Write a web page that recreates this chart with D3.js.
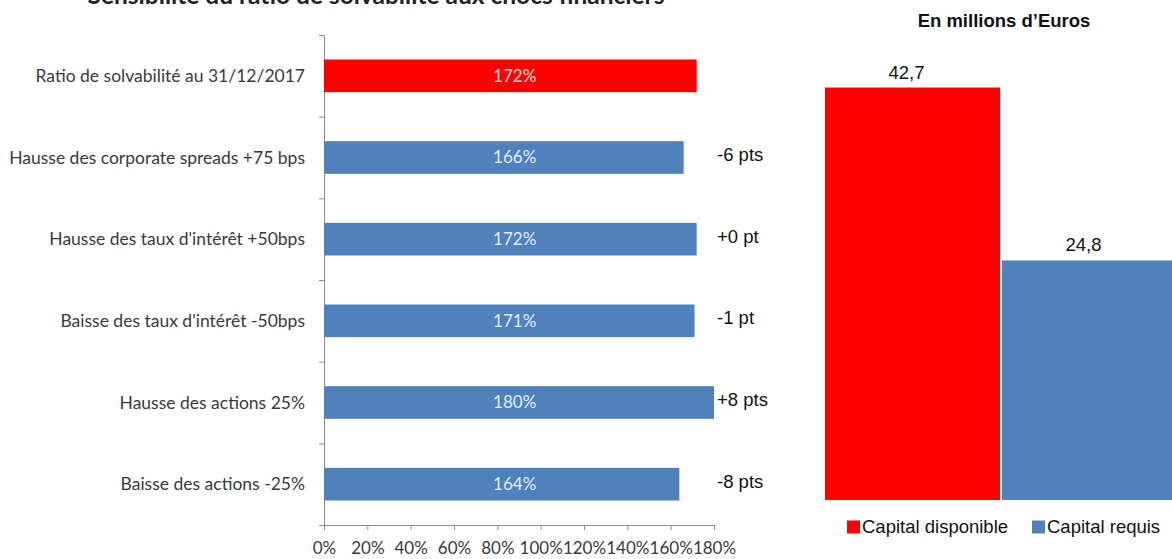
<!DOCTYPE html>
<html>
<head>
<meta charset="utf-8">
<script src="https://cdn.jsdelivr.net/npm/d3@7"></script>
<style>
  body { margin: 0; background: #fff; }
  svg { display: block; }
  .cal { font-family: Lato, "Noto Sans", sans-serif; }
  .ari { font-family: "Liberation Sans", Arial, sans-serif; }
</style>
</head>
<body>
<div id="graphique"></div>
<script>
// Données du graphique de gauche
const scenarios = [
  "Ratio de solvabilité au 31/12/2017",
  "Hausse des corporate spreads +75 bps",
  "Hausse des taux d'intérêt +50bps",
  "Baisse des taux d'intérêt -50bps",
  "Hausse des actions 25%",
  "Baisse des actions -25%"
];
const ratios = [172, 166, 172, 171, 180, 164];
const ecarts = ["", "-6 pts", "+0 pt", "-1 pt", "+8 pts", "-8 pts"];
const ticksX = [0, 20, 40, 60, 80, 100, 120, 140, 160, 180];

// Données du graphique de droite
const capitaux = ["Capital disponible", "Capital requis"];
const montants = [42.7, 24.8];
const couleurs = ["#ff0000", "#4f81bd"];

const largeur = 1172, hauteur = 559;

const svg = d3.select("#graphique")
  .append("svg")
  .attr("width", largeur)
  .attr("height", hauteur);

// Titre (coupé en haut comme sur l'original)
svg.append("text")
  .attr("class", "cal")
  .attr("x", 376)
  .attr("y", 4)
  .attr("text-anchor", "middle")
  .attr("font-weight", "bold")
  .attr("font-size", 24.5)
  .attr("fill", "#222")
  .text("Sensibilité du ratio de solvabilité aux chocs financiers");

// ----- Graphique à barres horizontales -----
const g = svg.append("g");
const x = d3.scaleLinear().domain([0, 180]).range([324, 714]);
const y = d3.scaleBand().domain(scenarios).range([35, 525])
  .paddingInner(0.6).paddingOuter(0.3);
const yTicks = d3.scaleLinear().domain([0, 6]).range([35, 525]);

// Axe Y (ticks aux limites des catégories)
g.append("g")
  .attr("transform", "translate(324,0)")
  .call(d3.axisLeft(yTicks).ticks(6).tickSize(5).tickSizeOuter(5).tickFormat(""))
  .call(a => a.selectAll("line,path").attr("stroke", "#8c8c8c"));

// Axe X
const axeX = g.append("g")
  .attr("transform", "translate(0,525)")
  .call(d3.axisBottom(x).tickValues(ticksX).tickSize(5).tickSizeOuter(0)
    .tickFormat(d => d + "%"));
axeX.selectAll("line,path").attr("stroke", "#8c8c8c");
axeX.selectAll("text")
  .attr("class", "cal")
  .attr("font-size", 17)
  .attr("fill", "#3a3a3a")
  .attr("dy", "1.25em");

// Barres
g.selectAll(".barre")
  .data(scenarios)
  .enter()
  .append("rect")
  .attr("class", "barre")
  .attr("x", x(0))
  .attr("y", d => y(d))
  .attr("height", y.bandwidth())
  .attr("width", (d, i) => x(ratios[i]) - x(0))
  .attr("fill", (d, i) => i === 0 ? "#ff0000" : "#4f81bd");

// Libellés des catégories
g.selectAll(".libelle")
  .data(scenarios)
  .enter()
  .append("text")
  .attr("class", "cal")
  .attr("x", 305)
  .attr("y", d => y(d) + y.bandwidth() / 2)
  .attr("dy", "0.35em")
  .attr("text-anchor", "end")
  .attr("font-size", 17.5)
  .attr("fill", "#3a3a3a")
  .text(d => d);

// Valeurs dans les barres
g.selectAll(".valeur")
  .data(scenarios)
  .enter()
  .append("text")
  .attr("class", "cal")
  .attr("x", x(88))
  .attr("y", d => y(d) + y.bandwidth() / 2)
  .attr("dy", "0.35em")
  .attr("text-anchor", "middle")
  .attr("font-size", 17)
  .attr("fill", (d, i) => i === 0 ? "#ffe0e0" : "#e4ecf7")
  .text((d, i) => ratios[i] + "%");

// Écarts à droite
g.selectAll(".ecart")
  .data(scenarios)
  .enter()
  .append("text")
  .attr("class", "ari")
  .attr("x", 717)
  .attr("y", d => y(d) + y.bandwidth() / 2 - 3)
  .attr("dy", "0.35em")
  .attr("font-size", 18.5)
  .attr("fill", "#111")
  .text((d, i) => ecarts[i]);

// ----- Graphique en colonnes -----
const g2 = svg.append("g");
const x2 = d3.scaleBand().domain(capitaux).range([825, 1177]).paddingInner(0.01);
const y2 = d3.scaleLinear().domain([0, 45]).range([500, 500 - 45 * 9.66]);

g2.append("text")
  .attr("class", "ari")
  .attr("x", 1004)
  .attr("y", 27)
  .attr("text-anchor", "middle")
  .attr("font-weight", "bold")
  .attr("font-size", 18.5)
  .attr("fill", "#111")
  .text("En millions d\u2019Euros");

g2.selectAll(".colonne")
  .data(capitaux)
  .enter()
  .append("rect")
  .attr("x", d => x2(d))
  .attr("y", (d, i) => y2(montants[i]))
  .attr("width", x2.bandwidth())
  .attr("height", (d, i) => y2(0) - y2(montants[i]))
  .attr("fill", (d, i) => couleurs[i]);

g2.selectAll(".montant")
  .data(capitaux)
  .enter()
  .append("text")
  .attr("class", "ari")
  .attr("x", d => x2(d) + x2.bandwidth() / 2 - 6)
  .attr("y", (d, i) => y2(montants[i]) - 9)
  .attr("text-anchor", "middle")
  .attr("font-size", 18.5)
  .attr("fill", "#111")
  .text((d, i) => String(montants[i]).replace(".", ","));

// Légende
const legendeX = [847, 1032];
const legende = g2.selectAll(".legende")
  .data(capitaux)
  .enter()
  .append("g")
  .attr("transform", (d, i) => `translate(${legendeX[i]},527)`);
legende.append("rect")
  .attr("x", 0).attr("y", -6.5)
  .attr("width", 13).attr("height", 13)
  .attr("fill", (d, i) => couleurs[i]);
legende.append("text")
  .attr("class", "ari")
  .attr("x", 15)
  .attr("dy", "0.35em")
  .attr("font-size", 18.5)
  .attr("fill", "#111")
  .text(d => d);
</script>
</body>
</html>
